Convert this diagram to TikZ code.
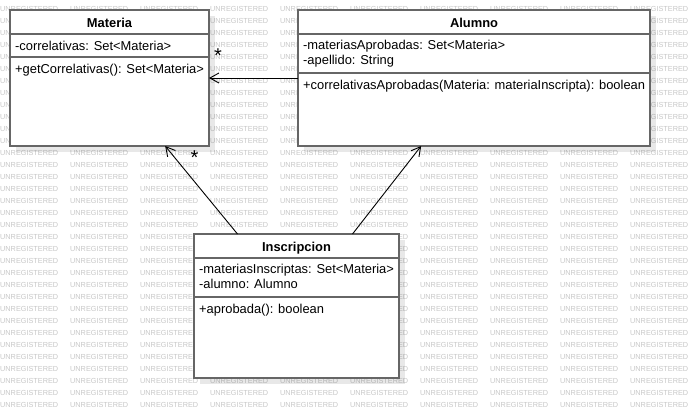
\documentclass[tikz,border=0pt]{standalone}
\usepackage{fontspec}
\setmainfont{Liberation Sans}
\usetikzlibrary{positioning, arrows.meta, shadows}
\definecolor{classline}{RGB}{102,102,102}
\definecolor{stampgray}{RGB}{200,200,200}

\begin{document}
\begin{tikzpicture}[x=1pt, y=-1pt,
    umlclass/.style={rectangle, draw=classline, line width=1.6pt, fill=white, anchor=north west, outer sep=0pt, inner sep=0pt, drop shadow={shadow xshift=6pt, shadow yshift=-6pt, fill=black, opacity=0.09}},
    umlname/.style={inner sep=0pt, font=\fontsize{12.9}{15}\selectfont\bfseries, execute at begin node=\strut},
    umltext/.style={inner sep=0pt, align=left, font=\fontsize{12.9}{15}\selectfont, execute at begin node=\strut},
    umlsep/.style={draw=classline, line width=1.6pt},
    assoc/.style={draw=black, line width=0.9pt, -{Straight Barb[length=9pt, width=10pt]}},
    mult/.style={inner sep=0pt, font=\fontsize{20}{20}\selectfont},
    stamp/.style={anchor=west, inner sep=0pt, text=stampgray, font=\fontsize{7.3}{8}\selectfont}
]
    \useasboundingbox[fill=white] (0,0) rectangle (691,418);
    % watermark, left out where a class box hides it
    \foreach \r in {0,...,33}
        \foreach \c in {0,...,9} {
            \pgfmathtruncatemacro{\hidden}{(\c>0 && \c<3 && \r>0 && \r<12) || (\c>4 && \c<9 && \r>0 && \r<12) || (\c>2 && \c<5 && \r>19 && \r<31)}
            \ifnum\hidden=0
                \node[stamp] (wm-\r-\c) at (70*\c, 9+12*\r) {UNREGISTERED};
            \fi
        }

    % Materia
    \node[umlclass, minimum width=199pt, minimum height=136pt] (materia) at (10,10) {};
    \node[umlname, below=6.5pt of materia.north] (materiaName) {Materia};
    \draw[umlsep] ([yshift=-24pt]materia.north west) -- ([yshift=-24pt]materia.north east);
    \draw[umlsep] ([yshift=-47pt]materia.north west) -- ([yshift=-47pt]materia.north east);
    \node[umltext, below right=29.5pt and 5pt of materia.north west] (materiaAttr) {-correlativas: Set<Materia>};
    \node[umltext, below right=52.5pt and 5pt of materia.north west] (materiaOps) {+getCorrelativas(): Set<Materia>};

    % Alumno
    \node[umlclass, minimum width=352pt, minimum height=136pt] (alumno) at (298,10) {};
    \node[umlname, below=6.5pt of alumno.north] (alumnoName) {Alumno};
    \draw[umlsep] ([yshift=-24pt]alumno.north west) -- ([yshift=-24pt]alumno.north east);
    \draw[umlsep] ([yshift=-63pt]alumno.north west) -- ([yshift=-63pt]alumno.north east);
    \node[umltext, below right=29.5pt and 5pt of alumno.north west] (alumnoAttr) {-materiasAprobadas: Set<Materia>\\-apellido: String};
    \node[umltext, below right=68.5pt and 5pt of alumno.north west] (alumnoOps) {+correlativasAprobadas(Materia: materiaInscripta): boolean};

    % Inscripcion
    \node[umlclass, minimum width=205pt, minimum height=144pt] (inscripcion) at (194,234) {};
    \node[umlname, below=6.5pt of inscripcion.north] (inscripcionName) {Inscripcion};
    \draw[umlsep] ([yshift=-24pt]inscripcion.north west) -- ([yshift=-24pt]inscripcion.north east);
    \draw[umlsep] ([yshift=-63pt]inscripcion.north west) -- ([yshift=-63pt]inscripcion.north east);
    \node[umltext, below right=29.5pt and 5pt of inscripcion.north west] (inscripcionAttr) {-materiasInscriptas: Set<Materia>\\-alumno: Alumno};
    \node[umltext, below right=68.5pt and 5pt of inscripcion.north west] (inscripcionOps) {+aprobada(): boolean};

    % associations
    \draw[assoc] (alumno) -- node[mult, pos=0.9, yshift=22pt] (multAlumno) {*} (materia);
    \draw[assoc] (inscripcion) -- node[mult, pos=0.87, xshift=20pt] (multInscripcion) {*} (materia);
    \draw[assoc] (inscripcion) -- (alumno);
\end{tikzpicture}
\end{document}
